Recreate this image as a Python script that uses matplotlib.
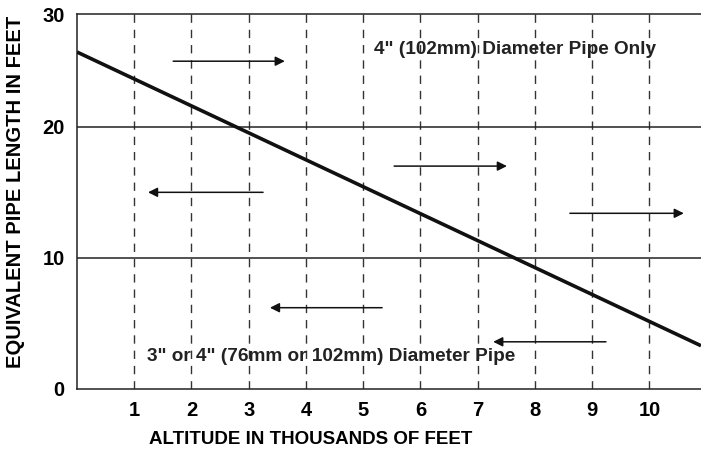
import matplotlib
matplotlib.use("Agg")
import matplotlib.pyplot as plt

# Data
altitude = [0.0, 10.9]          # thousands of feet
pipe_length = [25.7, 3.3]       # equivalent feet
x_ticks = [1, 2, 3, 4, 5, 6, 7, 8, 9, 10]
y_ticks = [0, 10, 20, 28.6]
y_tick_labels = ["0", "10", "20", "30"]

# arrows: (x start, x end, y)
arrows = [
    (1.68, 3.63, 25.0),
    (3.25, 1.24, 15.0),
    (5.54, 7.51, 17.0),
    (8.61, 10.6, 13.4),
    (5.33, 3.37, 6.2),
    (9.24, 7.27, 3.6),
]

plt.rcParams["font.family"] = ["Liberation Sans", "DejaVu Sans"]

fig = plt.figure(figsize=(7.01, 4.5), dpi=100)
ax = fig.add_axes([77 / 701, 61 / 450, 624 / 701, 375 / 450])

ax.set_xlim(0, 10.9)
ax.set_ylim(0, 28.6)

for x in x_ticks:
    ax.axvline(x, color="#333333", lw=1.0, ls=(0, (6, 5)), zorder=1)
for y in [10, 20]:
    ax.axhline(y, color="#222222", lw=1.1, zorder=1)

ax.plot(altitude, pipe_length, color="#111111", lw=2.6, solid_capstyle="butt", zorder=3)

for x0, x1, y in arrows:
    ax.annotate("", xy=(x1, y), xytext=(x0, y),
                arrowprops=dict(arrowstyle="-|>", color="#111111", lw=1.1,
                                mutation_scale=14, shrinkA=0, shrinkB=0))

ax.text(7.65, 25.9, '4" (102mm) Diameter Pipe Only', fontsize=13.7, fontweight="bold",
        ha="center", va="center", color="#222222")
ax.text(1.22, 2.45, '3" or 4" (76mm or 102mm) Diameter Pipe', fontsize=13.7, fontweight="bold",
        ha="left", va="center", color="#222222")

ax.set_xticks(x_ticks)
ax.set_xticklabels([str(t) for t in x_ticks])
ax.set_yticks(y_ticks)
ax.set_yticklabels(y_tick_labels)
ax.tick_params(length=0, labelsize=14.5, pad=9)
for lab in ax.get_xticklabels() + ax.get_yticklabels():
    lab.set_fontweight("bold")

ax.set_xlabel("ALTITUDE IN THOUSANDS OF FEET", fontsize=13.5, fontweight="bold", va="center")
ax.xaxis.set_label_coords(0.375, -0.136)
ax.set_ylabel("EQUIVALENT PIPE LENGTH IN FEET", fontsize=14.5, fontweight="bold", va="center")
ax.yaxis.set_label_coords(-0.099, 0.525)

for side in ["left", "bottom", "top"]:
    ax.spines[side].set_linewidth(1.1)
    ax.spines[side].set_color("#222222")
ax.spines["right"].set_visible(False)

fig.savefig("out.png", dpi=100)
